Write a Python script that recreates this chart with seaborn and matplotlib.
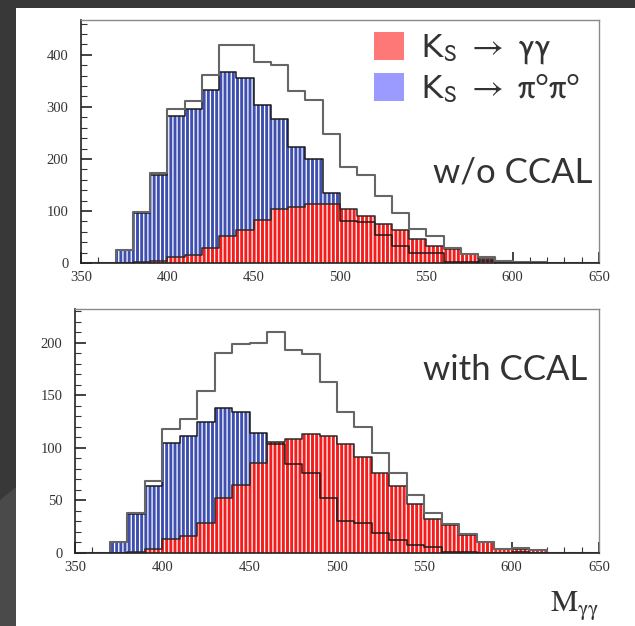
import numpy as np
import pandas as pd
import seaborn as sns
import matplotlib.pyplot as plt
from matplotlib.patches import Rectangle, Polygon, Patch
from matplotlib.ticker import MultipleLocator

# bin edges, 10 MeV wide
edges = list(range(350, 660, 10))
centers = [e + 5 for e in edges[:-1]]

# w/o CCAL
red_top = [0, 0, 0, 1, 4, 12, 16, 28, 52, 63, 83, 104, 108, 114, 114,
           104, 90, 75, 63, 46, 33, 26, 17, 8, 4, 2, 2, 0, 0, 0]
blue_top = [0, 0, 25, 97, 169, 283, 296, 333, 367, 356, 304, 276, 222, 200, 134,
            81, 79, 54, 33, 20, 19, 2, 1, 3, 0, 0, 0, 0, 0, 0]

# with CCAL
red_bot = [0, 0, 0, 1, 4, 13, 16, 29, 52, 65, 86, 106, 108, 113, 111,
           104, 91, 76, 64, 47, 32, 27, 17, 10, 4, 4, 3, 0, 0, 0]
blue_bot = [0, 0, 10, 37, 64, 105, 111, 125, 138, 134, 114, 104, 85, 76, 52,
            30, 29, 19, 12, 8, 6, 1, 1, 0, 0, 1, 0, 0, 0, 0]

labels = [r"$\mathrm{K_S\ \rightarrow\ \gamma\gamma}$",
          r"$\mathrm{K_S\ \rightarrow\ \pi^o\pi^o}$"]
panel_text = ["w/o CCAL", "with CCAL"]

sns.set_style("ticks")
plt.rcParams['hatch.linewidth'] = 0.9
plt.rcParams['mathtext.fontset'] = 'stix'

RED = '#f41c1c'
BLUE = '#3f4fb0'
serif = ['Liberation Serif', 'DejaVu Serif']
sans = ['Lato', 'DejaVu Sans']

fig = plt.figure(figsize=(6.35, 6.26), dpi=100, facecolor='#383838')
fig.patches.append(Rectangle((16 / 635, 0), 1, 1 - 8 / 626, transform=fig.transFigure,
                             facecolor='white', edgecolor='none', zorder=-1))
fig.patches.append(Polygon([(0, 0), (16 / 635, 0), (16 / 635, 1 - 487 / 626), (0, 1 - 500 / 626)],
                           transform=fig.transFigure, facecolor='#4a4a4a', edgecolor='none', zorder=-1))

ax1 = fig.add_axes([81 / 635, 1 - 263 / 626, 518 / 635, 243 / 626])
ax2 = fig.add_axes([75 / 635, 1 - 553 / 626, 524 / 635, 244 / 626])


def draw_panel(ax, red, blue, ymax, major, minor):
    df = pd.DataFrame({'m': centers, 'red': red, 'blue': blue})
    df['total'] = df['red'] + df['blue']
    sns.histplot(data=df, x='m', weights='blue', bins=edges, ax=ax, facecolor=BLUE, alpha=1,
                 edgecolor='white', linewidth=0, hatch='||||')
    sns.histplot(data=df, x='m', weights='red', bins=edges, ax=ax, facecolor=RED, alpha=1,
                 edgecolor='white', linewidth=0, hatch='||||')
    sns.histplot(data=df, x='m', weights='blue', bins=edges, ax=ax, element='step', fill=False,
                 color='#1a1a1a', linewidth=1.1)
    sns.histplot(data=df, x='m', weights='red', bins=edges, ax=ax, element='step', fill=False,
                 color='#2a2a2a', linewidth=1.1)
    sns.histplot(data=df, x='m', weights='total', bins=edges, ax=ax, element='step', fill=False,
                 color='#666666', linewidth=1.5)
    ax.set_xlim(350, 650)
    ax.set_ylim(0, ymax)
    ax.set_xlabel('')
    ax.set_ylabel('')
    ax.xaxis.set_major_locator(MultipleLocator(50))
    ax.xaxis.set_minor_locator(MultipleLocator(10))
    ax.yaxis.set_major_locator(MultipleLocator(major))
    ax.yaxis.set_minor_locator(MultipleLocator(minor))
    ax.tick_params(which='major', direction='in', length=8, width=1.2, color='#222',
                   labelsize=10.5, labelcolor='#333')
    ax.tick_params(which='minor', direction='in', length=4, width=0.8, color='#333')
    ax.tick_params(axis='y', pad=9)
    ax.tick_params(axis='x', pad=6)
    for lab in ax.get_xticklabels() + ax.get_yticklabels():
        lab.set_family(serif)
    for side in ['left', 'bottom']:
        ax.spines[side].set_color('#222')
        ax.spines[side].set_linewidth(1.2)
    for side in ['top', 'right']:
        ax.spines[side].set_visible(True)
        ax.spines[side].set_color('#8a8a8a')
        ax.spines[side].set_linewidth(1.0)


draw_panel(ax1, red_top, blue_top, 467, 100, 20)
draw_panel(ax2, red_bot, blue_bot, 232, 50, 10)

handles = [Patch(facecolor='#ff7878', edgecolor='none'),
           Patch(facecolor='#9b9bff', edgecolor='none')]
leg = ax1.legend(handles, labels, loc='upper right', bbox_to_anchor=(1.0, 1.03),
                 frameon=False, handlelength=0.86, handleheight=0.86, handletextpad=0.5,
                 labelspacing=0.15, borderaxespad=0.15,
                 prop={'family': sans, 'size': 25})
for t in leg.get_texts():
    t.set_color('#333')
    t.set_math_fontfamily('stixsans')

ax1.text(0.988, 0.372, panel_text[0], transform=ax1.transAxes, ha='right', va='center',
         fontsize=25, color='#333', family=sans)
ax2.text(0.977, 0.75, panel_text[1], transform=ax2.transAxes, ha='right', va='center',
         fontsize=25, color='#333', family=sans)

ax2.set_xlabel(r'$\mathrm{M}_{\mathrm{\gamma\gamma}}$', loc='right', fontsize=22, color='#333',
               labelpad=11)

fig.savefig('out.png', dpi=100, facecolor=fig.get_facecolor())
